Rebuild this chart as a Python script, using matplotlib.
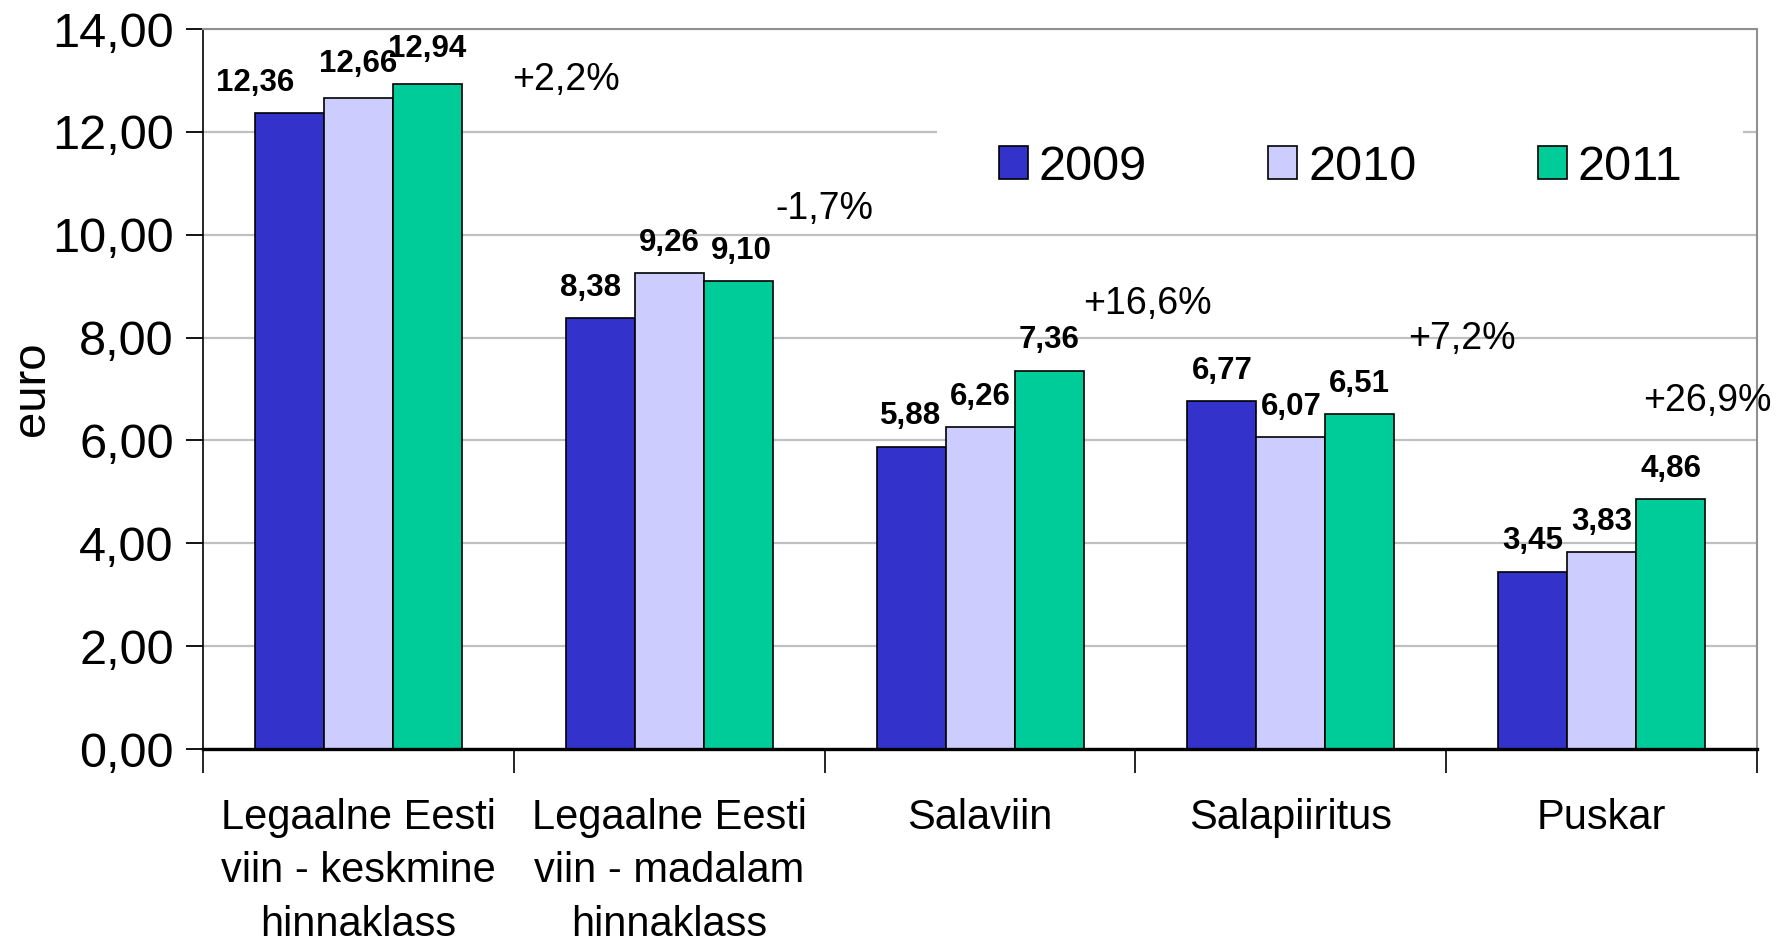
import numpy as np
import matplotlib
matplotlib.use("Agg")
import matplotlib.pyplot as plt
from matplotlib.patches import Rectangle

plt.rcParams['font.family'] = ['Liberation Sans', 'DejaVu Sans']

# andmed (euro)
categories = ['Legaalne Eesti\nviin - keskmine\nhinnaklass',
              'Legaalne Eesti\nviin - madalam\nhinnaklass',
              'Salaviin', 'Salapiiritus', 'Puskar']
years = ['2009', '2010', '2011']
v2009 = [12.36, 8.38, 5.88, 6.77, 3.45]
v2010 = [12.66, 9.26, 6.26, 6.07, 3.83]
v2011 = [12.94, 9.10, 7.36, 6.51, 4.86]
changes = ['+2,2%', '-1,7%', '+16,6%', '+7,2%', '+26,9%']

colors = ['#3333CC', '#CCCCFF', '#00CC99']

# muutuse siltide asukohad
chg_dx = [0.667, 0.50, 0.54, 0.55, 0.34]
chg_y = [13.0, 10.5, 8.65, 7.98, 6.76]
# väikesed nihked väärtuste siltidele (seeria, kategooria) -> (dx, dy punktides)
nudge = {(0, 0): (-0.11, 0), (0, 1): (-0.03, 0), (2, 1): (0.01, 0),
         (1, 0): (0, 3), (2, 0): (0, 3)}

fig = plt.figure(figsize=(17.92, 9.46), dpi=100)
ax = fig.add_axes([0.1133, 0.2082, 0.8672, 0.7611])

x = np.arange(len(categories))
w = 0.222
series = [v2009, v2010, v2011]
for i, vals in enumerate(series):
    bars = ax.bar(x + (i - 1) * w, vals, w, color=colors[i], edgecolor='black',
                  linewidth=1.2, label=years[i], zorder=2)
    for j, (b, v) in enumerate(zip(bars, vals)):
        dx, dy = nudge.get((i, j), (0, 0))
        ax.annotate(f'{v:.2f}'.replace('.', ','),
                    (b.get_x() + b.get_width() / 2 + dx, v),
                    xytext=(0, 11 + dy), textcoords='offset points',
                    ha='center', va='bottom', fontsize=22.5, fontweight='bold')

for i, t in enumerate(changes):
    ax.text(x[i] + chg_dx[i], chg_y[i], t, ha='center', va='center',
            fontsize=27, clip_on=False)

ax.set_xlim(-0.5, len(categories) - 0.5)
ax.set_ylim(0, 14)
ax.set_yticks(np.arange(0, 15, 2))
ax.set_yticklabels([f'{v:.2f}'.replace('.', ',') for v in np.arange(0, 15, 2)])
ax.tick_params(axis='y', labelsize=35, length=12, width=1.3, direction='out', pad=9)

ax.set_xticks(np.arange(-0.5, len(categories), 1))
ax.set_xticklabels([])
ax.tick_params(axis='x', which='major', length=17, width=1.2, direction='out')
ax.set_xticks(x, minor=True)
ax.set_xticklabels(categories, minor=True, fontsize=30, linespacing=1.44)
ax.tick_params(axis='x', which='minor', length=0, pad=35)

ax.yaxis.grid(True, color='#C0C0C0', linewidth=1.6)
ax.set_axisbelow(True)

ax.spines['left'].set_linewidth(1.2)
ax.spines['bottom'].set_linewidth(2.4)
ax.spines['top'].set_color('#909090')
ax.spines['top'].set_linewidth(1.5)
ax.spines['right'].set_color('#909090')
ax.spines['right'].set_linewidth(1.5)

ax.set_ylabel('euro', fontsize=34)
ax.yaxis.set_label_coords(-0.096, 0.5)

# valge taust legendi all
ax.add_patch(Rectangle((0.472, 0.762), 0.519, 0.14, transform=ax.transAxes,
                       facecolor='white', edgecolor='none', zorder=1))
ax.legend(loc='center', bbox_to_anchor=(0.732, 0.808), ncol=3, frameon=False,
          fontsize=35, handlelength=0.6, handleheight=0.66, handletextpad=0.22,
          columnspacing=2.5)

fig.savefig('out.png', dpi=100)
